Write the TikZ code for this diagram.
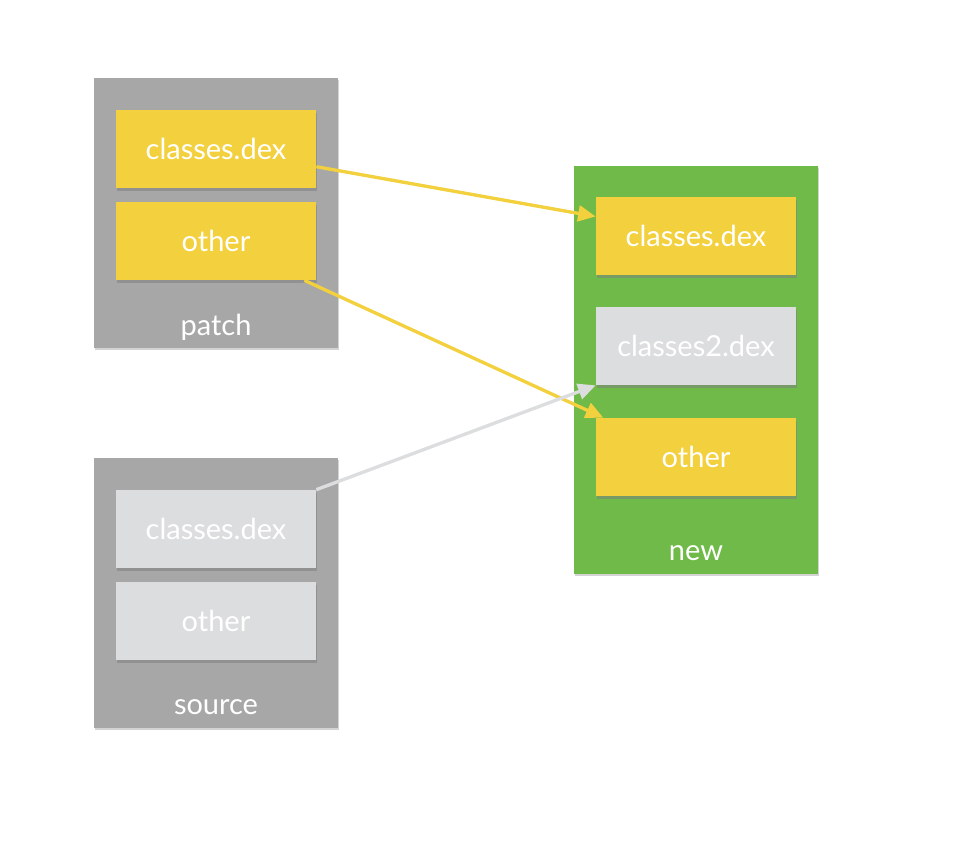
\documentclass[tikz,border=0pt]{standalone}
\usepackage{fontspec}
\setmainfont{Lato}
\usetikzlibrary{arrows.meta,shadows}
\definecolor{boxgray}{HTML}{A6A7A6}
\definecolor{fileyellow}{HTML}{F3D03E}
\definecolor{newgreen}{HTML}{6FBA48}
\definecolor{filegray}{HTML}{DCDDDE}

\begin{document}
\begin{tikzpicture}[x=0.02cm,y=-0.02cm,
    every node/.style={font=\fontsize{16.5}{18}\selectfont, text=white},
    pack/.style={fill=#1, minimum width=4.88cm, drop shadow={opacity=0.35, shadow xshift=0.4pt, shadow yshift=-1pt}},
    dexfile/.style={fill=#1, minimum width=4cm, minimum height=1.56cm, drop shadow={opacity=0.55, shadow xshift=0.8pt, shadow yshift=-1.5pt}},
    link/.style={draw=#1, line width=1.9pt, -{Triangle[length=10pt,width=9pt]}}]
	    \useasboundingbox (0,0) rectangle (972,856);
	    % containers
	    \node[pack=boxgray, minimum height=5.4cm] (patch) at (216,213) {};
	    \node[pack=boxgray, minimum height=5.4cm] (source) at (216,593) {};
	    \node[pack=newgreen, minimum height=8.16cm] (new) at (696,370) {};
	    \node (patchlbl) at (216,327) {patch};
	    \node (sourcelbl) at (216,707) {source};
	    \node (newlbl) at (696,553) {new};
	    % files
	    \node[dexfile=fileyellow] (pc) at (216,149) {classes.dex};
	    \node[dexfile=fileyellow] (po) at (216,241) {other};
	    \node[dexfile=filegray] (sc) at (216,529) {classes.dex};
	    \node[dexfile=filegray] (so) at (216,621) {other};
	    \node[dexfile=fileyellow] (nc) at (696,236) {classes.dex};
	    \node[dexfile=filegray] (nc2) at (696,346) {classes2.dex};
	    \node[dexfile=fileyellow] (no) at (696,457) {other};
	    % arrows
	    \draw[link=fileyellow] (pc.-10) -- (nc.169);
	    \draw[link=fileyellow] (po.-24.4) -- (no.157.5);
	    \draw[link=filegray] (sc.north east) -- (nc2.south west);
	\end{tikzpicture}
\end{document}
